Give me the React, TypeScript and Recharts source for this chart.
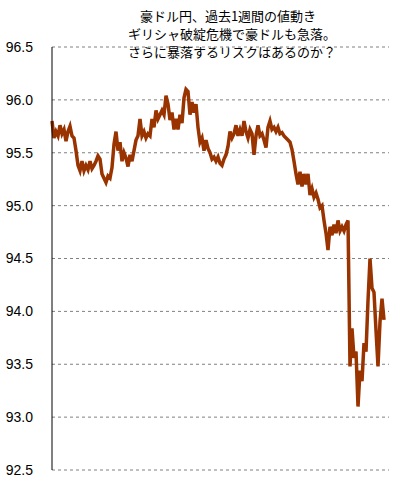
import { LineChart, Line, XAxis, YAxis, CartesianGrid } from 'recharts';

// 豪ドル円 過去1週間（左から右へ等間隔の時系列）
const rates = [
  95.80, 95.64, 95.70, 95.66, 95.76, 95.68, 95.72, 95.61, 95.70, 95.75,
  95.66, 95.64, 95.52, 95.38, 95.33, 95.42, 95.33, 95.38, 95.34, 95.42,
  95.35, 95.38, 95.42, 95.47, 95.44, 95.30, 95.26, 95.22, 95.28, 95.26,
  95.36, 95.58, 95.70, 95.52, 95.60, 95.42, 95.50, 95.45, 95.37, 95.48,
  95.42, 95.52, 95.62, 95.66, 95.82, 95.66, 95.70, 95.64, 95.68, 95.66,
  95.82, 95.74, 95.90, 95.82, 95.86, 95.90, 95.86, 96.04, 95.96, 95.81,
  95.88, 95.72, 95.82, 95.72, 95.86, 95.78, 96.02, 96.10, 96.08, 95.86,
  95.98, 95.88, 95.96, 95.74, 95.60, 95.64, 95.52, 95.62, 95.54, 95.50,
  95.44, 95.46, 95.42, 95.46, 95.40, 95.38, 95.44, 95.48, 95.56, 95.70,
  95.64, 95.68, 95.76, 95.66, 95.72, 95.66, 95.80, 95.70, 95.64, 95.72,
  95.68, 95.48, 95.66, 95.76, 95.66, 95.68, 95.62, 95.55, 95.74, 95.80,
  95.72, 95.74, 95.70, 95.74, 95.68, 95.69, 95.66, 95.64, 95.62, 95.60,
  95.53, 95.42, 95.30, 95.20, 95.32, 95.18, 95.30, 95.20, 95.30, 95.10,
  95.16, 95.08, 95.12, 95.06, 94.98, 95.00, 94.86, 94.74, 94.58, 94.80,
  94.72, 94.82, 94.74, 94.86, 94.76, 94.80, 94.76, 94.82, 94.86, 93.48,
  93.84, 93.56, 93.62, 93.10, 93.44, 93.34, 93.70, 93.62, 94.10, 94.50,
  94.22, 94.18, 93.82, 93.48, 93.90, 94.12, 93.92,
];

const yTicks = [92.5, 93.0, 93.5, 94.0, 94.5, 95.0, 95.5, 96.0, 96.5];

const titleLines = [
  '豪ドル円、過去1週間の値動き',
  'ギリシャ破綻危機で豪ドルも急落。',
  'さらに暴落するリスクはあるのか？',
];

const data = rates.map((v, i) => ({ t: i, rate: v }));

export default function App() {
  return (
    <div style={{ position: 'absolute', left: 0, top: 0, width: 405, height: 497, background: '#fff' }}>
      <LineChart width={405} height={497} data={data} margin={{ top: 47, right: 16, bottom: 27, left: 0 }}>
        <CartesianGrid vertical={false} stroke="#808080" strokeDasharray="3 3" />
        <XAxis dataKey="t" type="number" domain={[0, 168.5]} hide />
        <YAxis
          width={52}
          domain={[92.5, 96.5]}
          ticks={yTicks}
          tickFormatter={(v: number) => v.toFixed(1)}
          tickLine={false}
          tickMargin={13}
          axisLine={{ stroke: '#000' }}
          tick={{ fontSize: 14, fill: '#000', fontFamily: 'Liberation Sans, Arial, sans-serif' }}
        />
        <Line
          type="linear"
          dataKey="rate"
          stroke="#993300"
          strokeWidth={3.5}
          dot={false}
          isAnimationActive={false}
        />
      </LineChart>
      <div
        style={{
          position: 'absolute',
          left: 128,
          top: 7,
          width: 200,
          textAlign: 'center',
          fontFamily: '"Noto Sans CJK JP", sans-serif',
          fontSize: 13,
          lineHeight: '18px',
          color: '#000',
          whiteSpace: 'nowrap',
        }}
      >
        {titleLines.map(l => <div key={l}>{l}</div>)}
      </div>
    </div>
  );
}
